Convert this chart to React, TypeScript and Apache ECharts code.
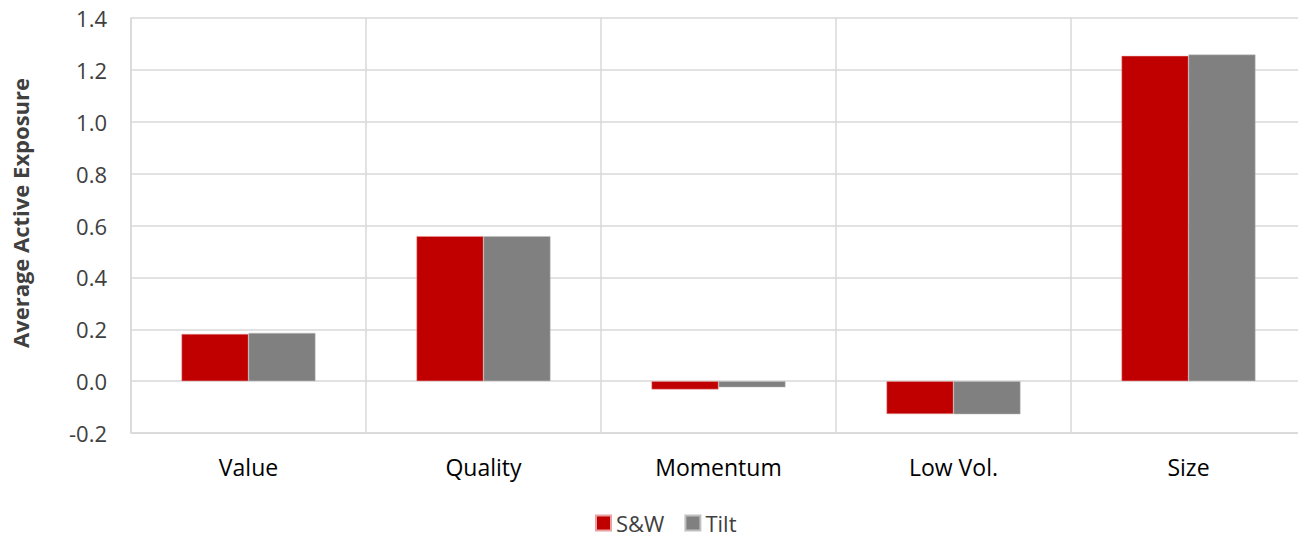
import React, { useEffect, useRef } from "react";
import * as echarts from "echarts";

const categories = ["Value", "Quality", "Momentum", "Low Vol.", "Size"];
const swValues = [0.182, 0.559, -0.032, -0.127, 1.254];
const tiltValues = [0.186, 0.559, -0.024, -0.128, 1.259];
const yTicks = { min: -0.2, max: 1.4, interval: 0.2 };
const yTitle = "Average Active Exposure";

const FONT = "'Open Sans', 'Noto Sans', sans-serif";

export default function App() {
  const ref = useRef<HTMLDivElement>(null);
  useEffect(() => {
    if (!ref.current) return;
    const chart = echarts.init(ref.current, undefined, { renderer: "svg" });
    chart.setOption({
      animation: false,
      backgroundColor: "#ffffff",
      textStyle: { fontFamily: FONT },
      grid: { left: 131, right: 14, top: 18, bottom: 103, containLabel: false },
      graphic: [
        {
          type: "text",
          x: 20,
          y: 213,
          rotation: Math.PI / 2,
          style: {
            text: yTitle,
            fontFamily: FONT,
            fontSize: 22,
            fontWeight: "bold",
            fill: "#404040",
            align: "center",
            verticalAlign: "middle",
          },
        },
      ],
      legend: {
        left: 590,
        top: 507,
        itemWidth: 15,
        itemHeight: 15,
        itemGap: 20,
        icon: "rect",
        textStyle: {
          fontFamily: FONT,
          fontSize: 22,
          color: "#404040",
        },
        data: ["S&W", "Tilt"],
      },
      xAxis: {
        type: "category",
        data: categories,
        axisLine: { show: true, onZero: false, lineStyle: { color: "#d9d9d9", width: 1.5 } },
        axisTick: { show: false },
        splitLine: { show: true, lineStyle: { color: "#d9d9d9", width: 1.5 } },
        axisLabel: { fontFamily: FONT, fontSize: 23, color: "#000000", margin: 22 },
      },
      yAxis: {
        type: "value",
        min: yTicks.min,
        max: yTicks.max,
        interval: yTicks.interval,
        axisLine: { show: true, lineStyle: { color: "#d9d9d9", width: 1.5 } },
        axisTick: { show: false },
        splitLine: { show: true, lineStyle: { color: "#d9d9d9", width: 1.5 } },
        axisLabel: {
          fontFamily: FONT,
          fontSize: 22,
          color: "#404040",
          margin: 24,
          formatter: (v: number) => v.toFixed(1),
        },
      },
      series: [
        {
          name: "S&W",
          type: "bar",
          data: swValues,
          barGap: "0%",
          barCategoryGap: "43%",
          itemStyle: { color: "#C00000", borderColor: "#e8a0a0", borderWidth: 0.5 },
        },
        {
          name: "Tilt",
          type: "bar",
          data: tiltValues,
          itemStyle: { color: "#808080", borderColor: "#c0c0c0", borderWidth: 0.5 },
        },
      ],
    });
    return () => chart.dispose();
  }, []);
  return (
    <div
      style={{
        position: "absolute",
        left: 0,
        top: 0,
        width: 1298,
        height: 536,
        overflow: "hidden",
      }}
    >
      <div ref={ref} style={{ width: 1320, height: 536 }} />
    </div>
  );
}
